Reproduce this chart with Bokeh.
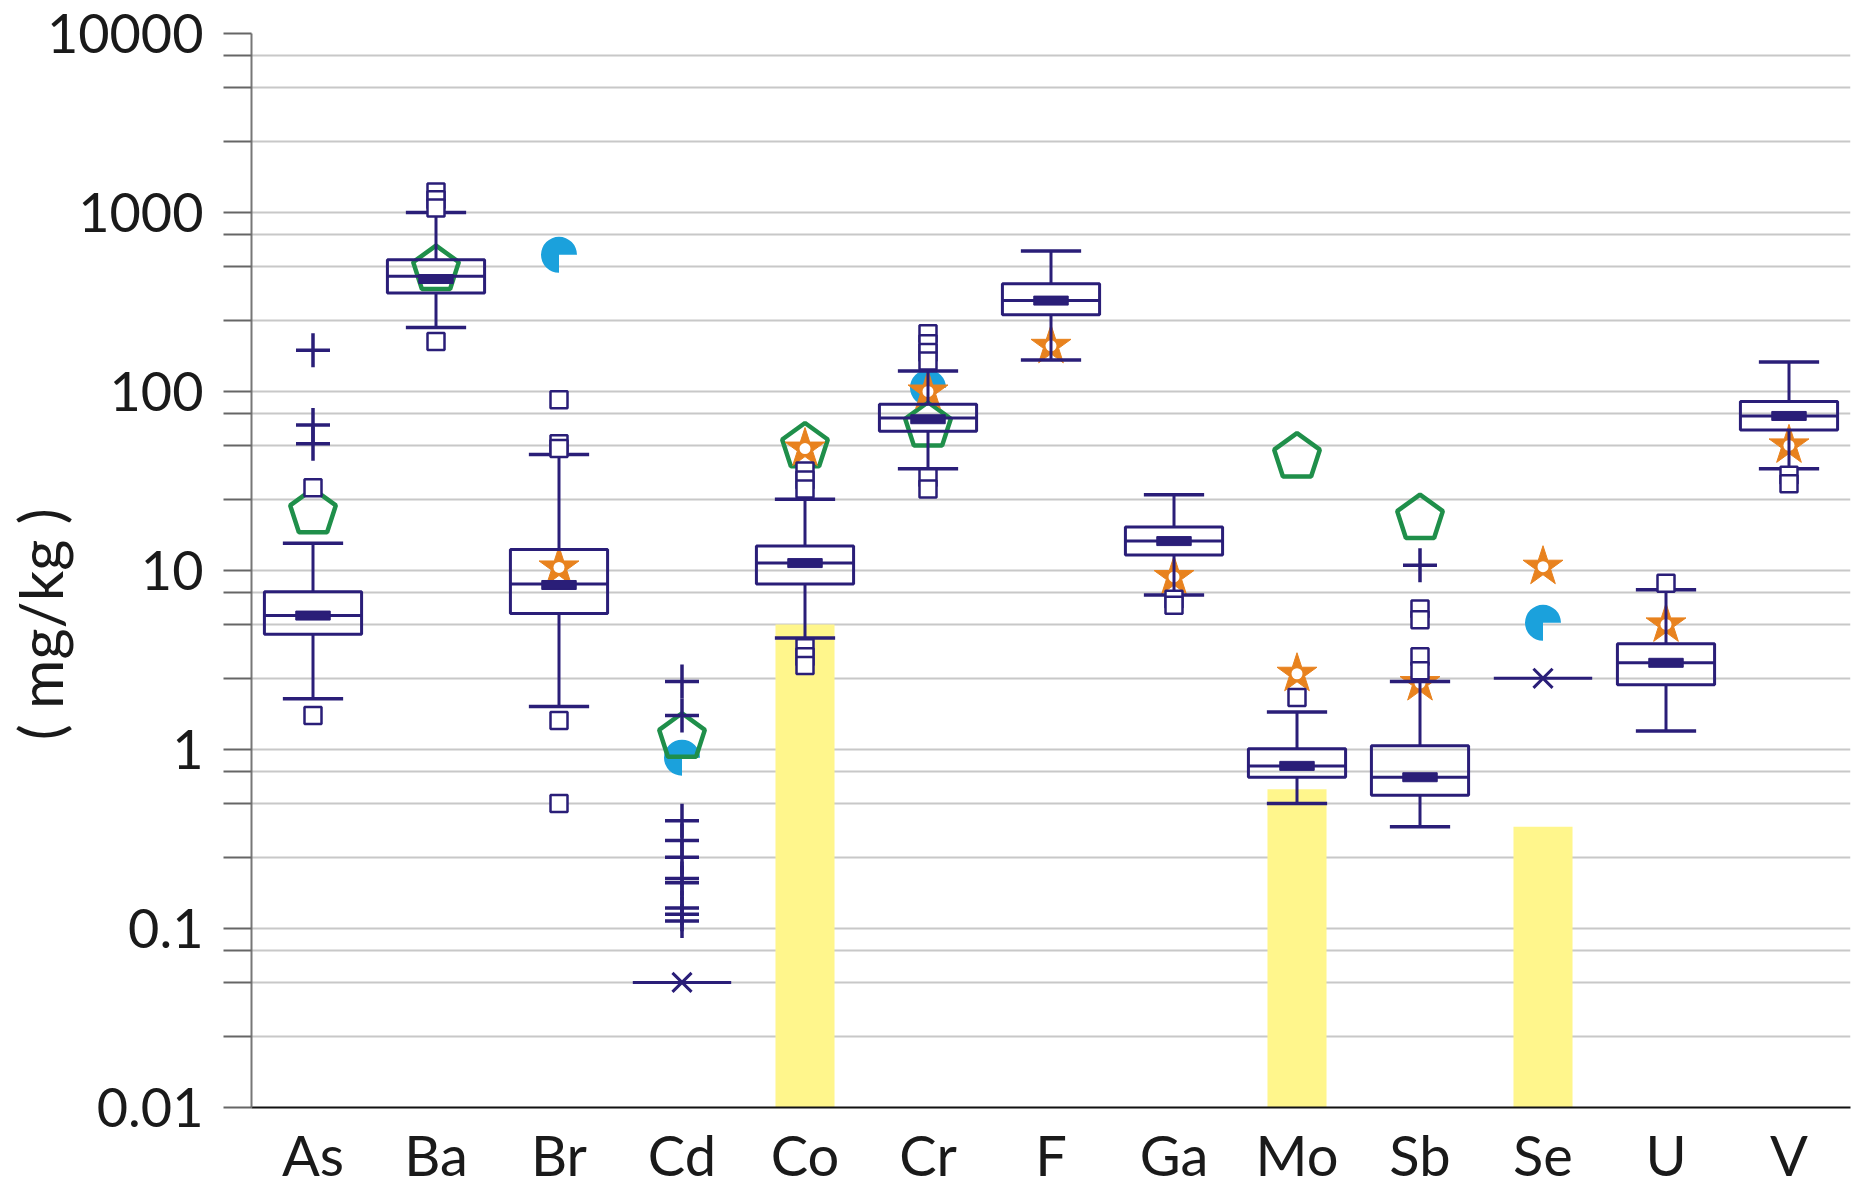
import math
from bokeh.plotting import figure
from bokeh.models import (ColumnDataSource, FactorRange, Range1d, FixedTicker,
                          CustomJSTickFormatter)
from bokeh.transform import dodge
from bokeh.embed import file_html
from bokeh.resources import INLINE

# ---------------- data ----------------
elements = ["As", "Ba", "Br", "Cd", "Co", "Cr", "F", "Ga", "Mo", "Sb", "Se", "U", "V"]

box_elements = ["As", "Ba", "Br", "Co", "Cr", "F", "Ga", "Mo", "Sb", "U", "V"]
whisker_low  = [1.92, 228, 1.74, 4.2, 37, 150, 7.3, 0.50, 0.37, 1.27, 37]
quartile1    = [4.4, 355, 5.75, 8.4, 60, 268, 12.2, 0.70, 0.555, 2.3, 61]
median       = [5.6, 440, 8.4, 11.0, 71, 322, 14.6, 0.81, 0.70, 3.05, 73]
quartile3    = [7.6, 545, 13.1, 13.7, 85, 400, 17.5, 1.01, 1.05, 3.9, 88]
whisker_high = [14.2, 1000, 44.5, 25, 130, 610, 26.5, 1.62, 2.4, 7.8, 146]
mean_value   = [5.6, 425, 8.3, 11.0, 70, 322, 14.6, 0.81, 0.70, 3.05, 73]

# outliers drawn as squares
square_el  = ["As", "As", "Ba", "Ba", "Ba", "Ba", "Br", "Br", "Br", "Br", "Br",
              "Co", "Co", "Co", "Co", "Co", "Co", "Cr", "Cr", "Cr", "Cr", "Cr", "Cr",
              "Ga", "Ga", "Mo", "Sb", "Sb", "Sb", "Sb", "U", "V", "V"]
square_val = [29, 1.55, 1300, 1180, 1060, 190, 90, 51, 48, 1.45, 0.50,
              36, 32, 28.5, 3.7, 3.3, 2.95, 210, 185, 165, 148, 33, 28.5,
              6.9, 6.4, 1.95, 6.1, 5.3, 3.3, 2.75, 8.5, 34, 30.5]

# extreme values drawn as plus signs
plus_el  = ["As", "As", "As", "Cd", "Cd", "Cd", "Cd", "Cd", "Cd", "Cd", "Cd", "Cd", "Cd", "Sb"]
plus_val = [170, 65, 51, 2.4, 1.55, 0.40, 0.31, 0.25, 0.19, 0.18, 0.13, 0.12, 0.11, 10.7]

# single-value elements (x marker with line)
single_el  = ["Cd", "Se"]
single_val = [0.05, 2.5]

# reference values
pentagon_el  = ["As", "Ba", "Cd", "Co", "Cr", "Mo", "Sb"]
pentagon_val = [21, 480, 1.17, 49, 64, 43, 19.5]

star_el  = ["Br", "Co", "Cr", "F", "Ga", "Mo", "Sb", "Se", "U", "V"]
star_val = [10.4, 48, 100, 180, 9.2, 2.65, 2.35, 10.5, 5.0, 50]

pie_el  = ["Br", "Cd", "Cr", "Se"]
pie_val = [580, 0.9, 105, 5.1]

# yellow bars
bar_el  = ["Co", "Mo", "Se"]
bar_val = [5.0, 0.6, 0.37]

major_ticks = [0.01, 0.1, 1, 10, 100, 1000, 10000]
minor_ticks = [0.025, 0.05, 0.075, 0.25, 0.5, 0.75, 2.5, 5, 7.5, 25, 50, 75,
               250, 500, 750, 2500, 5000, 7500]

y_title = "( mg/kg )"

# ---------------- styles ----------------
NAVY = "#2a1e78"
GREEN = "#1f8f4a"
ORANGE = "#e8821e"
CYAN = "#1ba1dc"
YELLOW = "#fff68c"
GRID = "#c8c8c8"
FONT = "Lato"

p = figure(width=1857, height=1191,
           x_range=FactorRange(factors=elements, range_padding=0),
           y_axis_type="log", y_range=Range1d(0.01, 10000),
           output_backend="svg", toolbar_location=None,
           min_border_left=251, min_border_right=7,
           min_border_top=33, min_border_bottom=84)
p.outline_line_color = None
p.background_fill_color = "white"

# axes
ticker = FixedTicker(ticks=major_ticks, minor_ticks=minor_ticks)
p.yaxis.ticker = ticker
p.ygrid.ticker = ticker
p.yaxis.formatter = CustomJSTickFormatter(code="return tick.toString();")
p.yaxis.major_label_text_font = FONT
p.yaxis.major_label_text_font_size = "54px"
p.yaxis.major_label_text_color = "#1a1a1a"
p.yaxis.major_label_standoff = 20
p.yaxis.major_tick_in = 0
p.yaxis.major_tick_out = 28
p.yaxis.minor_tick_in = 0
p.yaxis.minor_tick_out = 28
p.yaxis.major_tick_line_color = "#666666"
p.yaxis.minor_tick_line_color = "#666666"
p.yaxis.major_tick_line_width = 2
p.yaxis.minor_tick_line_width = 2
p.yaxis.axis_line_color = "#777777"
p.yaxis.axis_line_width = 2

# y axis title, tucked in beside the short tick labels
p.yaxis.axis_label = y_title + "\u00a0" * 7
p.yaxis.axis_label_standoff = -32
p.yaxis.axis_label_text_font = FONT
p.yaxis.axis_label_text_font_size = "60px"
p.yaxis.axis_label_text_font_style = "normal"
p.yaxis.axis_label_text_color = "#1a1a1a"

p.ygrid.grid_line_color = GRID
p.ygrid.grid_line_width = 2
p.ygrid.minor_grid_line_color = GRID
p.ygrid.minor_grid_line_width = 2
p.xgrid.grid_line_color = None

p.xaxis.major_tick_line_color = None
p.xaxis.minor_tick_line_color = None
p.xaxis.axis_line_color = "#111111"
p.xaxis.axis_line_width = 2
p.xaxis.major_label_text_font = FONT
p.xaxis.major_label_text_font_size = "56px"
p.xaxis.major_label_text_color = "#1a1a1a"
p.xaxis.major_label_standoff = 7

# yellow bars
p.vbar(x=bar_el, top=bar_val, bottom=0.01, width=0.48, fill_color=YELLOW, line_color=None)

# reference markers
pie_src = ColumnDataSource(dict(el=pie_el, val=pie_val))
p.wedge(x="el", y="val", radius=18, radius_units="screen", start_angle=0,
        end_angle=1.5 * math.pi, direction="anticlock", fill_color=CYAN,
        line_color=None, source=pie_src)

pent_src = ColumnDataSource(dict(el=pentagon_el, val=pentagon_val))
try:
    p.ngon(x="el", y="val", radius=24, radius_units="screen", n=5, angle=0,
           fill_color=None, line_color=GREEN, line_width=4.5, source=pent_src)
except Exception:
    p.scatter(x="el", y="val", marker="hex", size=42, fill_color=None,
              line_color=GREEN, line_width=4.5, source=pent_src)

star_src = ColumnDataSource(dict(el=star_el, val=star_val))
p.scatter(x="el", y="val", marker="star", size=42, fill_color=ORANGE,
          line_color=ORANGE, line_width=1, source=star_src)
p.scatter(x="el", y="val", marker="circle", size=11, fill_color="white",
          line_color=None, source=star_src)

# boxes
box_src = ColumnDataSource(dict(el=box_elements, lo=whisker_low, q1=quartile1,
                                med=median, q3=quartile3, hi=whisker_high, mean=mean_value))
p.segment(x0="el", x1="el", y0="q3", y1="hi", line_color=NAVY, line_width=3, source=box_src)
p.segment(x0="el", x1="el", y0="q1", y1="lo", line_color=NAVY, line_width=3, source=box_src)
p.segment(x0=dodge("el", -0.245, range=p.x_range), x1=dodge("el", 0.245, range=p.x_range),
          y0="hi", y1="hi", line_color=NAVY, line_width=3.5, source=box_src)
p.segment(x0=dodge("el", -0.245, range=p.x_range), x1=dodge("el", 0.245, range=p.x_range),
          y0="lo", y1="lo", line_color=NAVY, line_width=3.5, source=box_src)
p.vbar(x="el", top="q3", bottom="q1", width=0.79, fill_color=None,
       line_color=NAVY, line_width=3, source=box_src)
p.segment(x0=dodge("el", -0.395, range=p.x_range), x1=dodge("el", 0.395, range=p.x_range),
          y0="med", y1="med", line_color=NAVY, line_width=3, source=box_src)
p.rect(x="el", y="mean", width=0.28, height=9, height_units="screen",
       fill_color=NAVY, line_color=NAVY, source=box_src)

# outliers
p.scatter(x=square_el, y=square_val, marker="square", size=17, fill_color="white",
          line_color=NAVY, line_width=2.5)
p.scatter(x=plus_el, y=plus_val, marker="cross", size=34, line_color=NAVY, line_width=3.5)

# single-value elements
single_src = ColumnDataSource(dict(el=single_el, val=single_val))
p.segment(x0=dodge("el", -0.4, range=p.x_range), x1=dodge("el", 0.4, range=p.x_range),
          y0="val", y1="val", line_color=NAVY, line_width=3, source=single_src)
p.scatter(x="el", y="val", marker="x", size=27, line_color=NAVY, line_width=3,
          source=single_src)

open("out.html", "w").write(file_html(p, INLINE))
